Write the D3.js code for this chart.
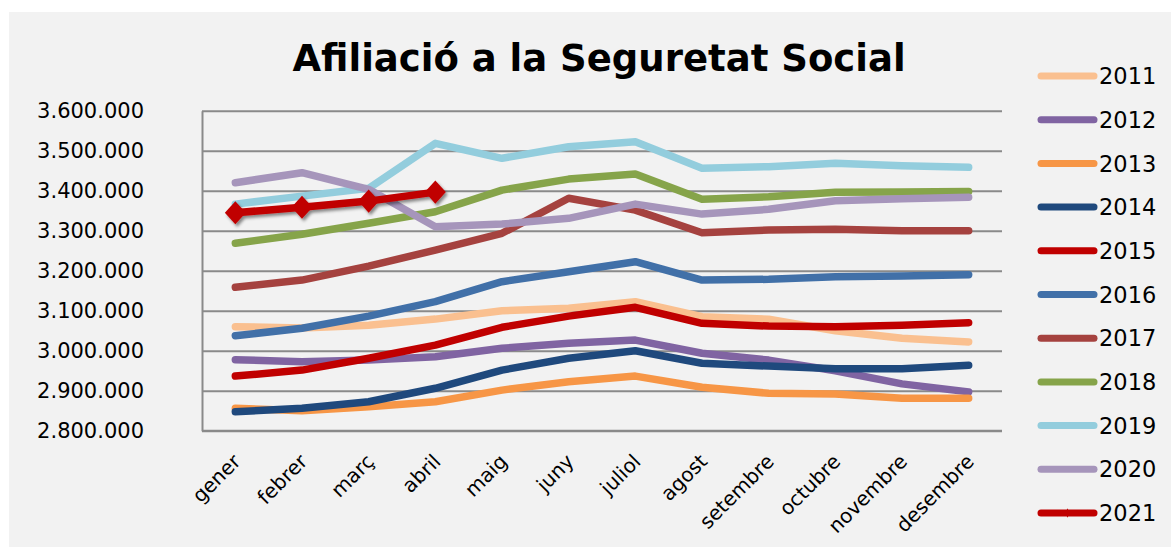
<!DOCTYPE html>
<html>
<head>
<meta charset="utf-8">
<script src="https://cdn.jsdelivr.net/npm/d3@7/dist/d3.min.js"></script>
<style>
  html, body { margin: 0; padding: 0; background: #ffffff; }
  svg { display: block; }
  text { font-family: "DejaVu Sans", Verdana, sans-serif; fill: #000; }
</style>
</head>
<body>
<svg id="chart" width="1171" height="549"></svg>
<script>
// ---- data ----
const months = ["gener","febrer","març","abril","maig","juny","juliol","agost","setembre","octubre","novembre","desembre"];
const years = ["2011","2012","2013","2014","2015","2016","2017","2018","2019","2020","2021"];
const yTicks = [2800000, 2900000, 3000000, 3100000, 3200000, 3300000, 3400000, 3500000, 3600000];

const s2011 = [3060000, 3057000, 3063500, 3079000, 3100000, 3106000, 3122500, 3085000, 3078500, 3050000, 3031000, 3022000];
const s2012 = [2977500, 2972500, 2976500, 2985000, 3006000, 3018500, 3026500, 2993500, 2976500, 2950000, 2917000, 2897000];
const s2013 = [2856000, 2850000, 2860000, 2872500, 2901500, 2922500, 2936500, 2908500, 2893500, 2891500, 2881000, 2881000];
const s2014 = [2847500, 2856000, 2872500, 2906000, 2951500, 2981000, 3000000, 2968500, 2961500, 2955000, 2955000, 2963500];
const s2015 = [2936500, 2951500, 2981000, 3014000, 3058500, 3086500, 3108500, 3068500, 3061500, 3060000, 3063500, 3070000];
const s2016 = [3037500, 3056000, 3086500, 3122500, 3172500, 3197500, 3222500, 3176500, 3178500, 3185000, 3186500, 3190000];
const s2017 = [3158500, 3176500, 3211500, 3251500, 3293500, 3381000, 3351500, 3295000, 3301500, 3303500, 3300000, 3300000];
const s2018 = [3268500, 3291000, 3318500, 3347500, 3401500, 3429000, 3441500, 3378500, 3385000, 3396000, 3397000, 3398000];
const s2019 = [3366500, 3386500, 3406000, 3518500, 3481000, 3510000, 3522500, 3456000, 3460000, 3468500, 3462500, 3458500];
const s2020 = [3420000, 3445000, 3403500, 3310000, 3316500, 3331000, 3366500, 3341500, 3353500, 3375000, 3380000, 3383500];
const s2021 = [3345000, 3358500, 3374000, 3396500];

const seriesValues = [s2011, s2012, s2013, s2014, s2015, s2016, s2017, s2018, s2019, s2020, s2021];
const colors = ["#FAC090","#8064A2","#F79646","#1F497D","#C00000","#4170A8","#A5423F","#86A44A","#93CDDD","#A695BB","#C00000"];

// ---- layout ----
const svg = d3.select("#chart");
const plot = { left: 202, right: 1002, top: 110.7, bottom: 430.7 };

svg.append("rect").attr("x", 9).attr("y", 12).attr("width", 1162).attr("height", 535).attr("fill", "#f2f2f2");

const defs = svg.append("defs");
const f = defs.append("filter").attr("id", "shadow").attr("x", "-20%").attr("y", "-50%").attr("width", "150%").attr("height", "200%");
f.append("feDropShadow").attr("dx", 2).attr("dy", 2.5).attr("stdDeviation", 1.8).attr("flood-color", "#000").attr("flood-opacity", 0.45);

const x = d3.scalePoint().domain(months).range([plot.left, plot.right]).padding(0.5);
const y = d3.scaleLinear().domain([2800000, 3600000]).range([plot.bottom, plot.top]);

const locale = d3.formatLocale({ decimal: ",", thousands: ".", grouping: [3], currency: ["", "€"] });
const fmt = locale.format(",");

// y axis with gridlines
const yAxis = d3.axisLeft(y).tickValues(yTicks).tickFormat(fmt)
  .tickSizeInner(-(plot.right - plot.left)).tickSizeOuter(0).tickPadding(58);
const gy = svg.append("g").attr("transform", `translate(${plot.left},0)`).call(yAxis);
gy.select(".domain").attr("stroke", "#8a8a8a").attr("stroke-width", 2);
gy.selectAll(".tick line").attr("stroke", "#8a8a8a").attr("stroke-width", 2);
gy.selectAll(".tick text").style("font-family", '"DejaVu Sans", Verdana, sans-serif').style("font-size", "21px").attr("fill", "#000");

// x axis
const xAxis = d3.axisBottom(x).tickSize(0).tickSizeOuter(0);
const gx = svg.append("g").attr("transform", `translate(0,${plot.bottom})`).call(xAxis);
gx.select(".domain").attr("stroke", "#8a8a8a").attr("stroke-width", 2)
  .attr("d", `M${plot.left},0H${plot.right}`);
gx.selectAll(".tick text")
  .style("font-family", '"DejaVu Sans", Verdana, sans-serif').style("font-size", "20px").attr("fill", "#000")
  .attr("text-anchor", "end").attr("x", 0).attr("y", 0).attr("dy", 0)
  .attr("transform", "translate(6,32) rotate(-45)");

// lines
const line = d3.line().x((d, i) => x(months[i])).y(d => y(d));
const gLines = svg.append("g");
seriesValues.forEach((vals, k) => {
  const g = gLines.append("g");
  if (k === 10) g.attr("filter", "url(#shadow)");
  g.append("path").datum(vals).attr("d", line)
    .attr("fill", "none").attr("stroke", colors[k]).attr("stroke-width", 7.5)
    .attr("stroke-linecap", "round").attr("stroke-linejoin", "round");
  if (k === 10) {
    g.selectAll("path.m").data(vals).enter().append("path").attr("class", "m")
      .attr("d", d3.symbol(d3.symbolDiamond2, 280))
      .attr("transform", (d, i) => `translate(${x(months[i])},${y(d)}) scale(1,1.1)`)
      .attr("fill", colors[k]);
  }
});

// title
svg.append("text").attr("x", 599).attr("y", 71).attr("text-anchor", "middle")
  .style("font-size", "37px").style("font-weight", "bold").text("Afiliació a la Seguretat Social");

// legend
const lg = svg.append("g");
years.forEach((yr, i) => {
  const yy = 76 + i * 43.7;
  lg.append("line").attr("x1", 1041).attr("x2", 1094).attr("y1", yy).attr("y2", yy)
    .attr("stroke", colors[i]).attr("stroke-width", 7).attr("stroke-linecap", "round");
  if (i === 10) {
    lg.append("path").attr("d", d3.symbol(d3.symbolDiamond2, 30))
      .attr("transform", `translate(1067.5,${yy}) scale(0.6,1.4)`).attr("fill", colors[i]);
  }
  lg.append("text").attr("x", 1099).attr("y", yy).attr("dy", "0.36em")
    .style("font-size", "22.5px").text(yr);
});
</script>
</body>
</html>
